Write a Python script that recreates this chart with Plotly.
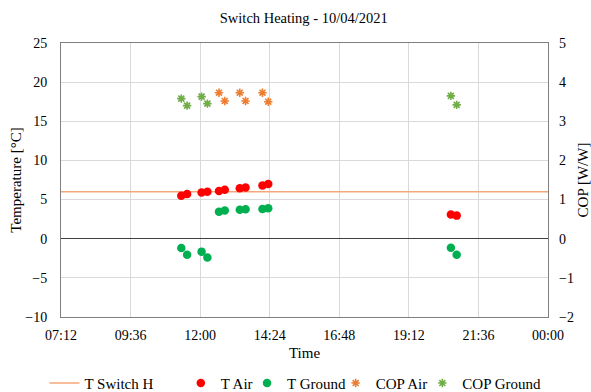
import plotly.graph_objects as go

# ---- data ----
t_switch_times = ["2021-04-10 07:12", "2021-04-11 00:00"]
t_switch_vals = [6.0, 6.0]

times = ["2021-04-10 11:21", "2021-04-10 11:33",
         "2021-04-10 12:03", "2021-04-10 12:15",
         "2021-04-10 12:39", "2021-04-10 12:51",
         "2021-04-10 13:22", "2021-04-10 13:34",
         "2021-04-10 14:09", "2021-04-10 14:21",
         "2021-04-10 20:39", "2021-04-10 20:51"]
t_air = [5.5, 5.7, 5.9, 6.0, 6.1, 6.25, 6.45, 6.55, 6.8, 7.0, 3.1, 2.95]
t_ground = [-1.2, -2.05, -1.65, -2.4, 3.45, 3.6, 3.7, 3.75, 3.8, 3.9, -1.15, -2.05]

cop_air_times = times[4:10]
cop_air = [3.73, 3.52, 3.73, 3.52, 3.73, 3.5]
cop_ground_times = times[0:4] + times[10:12]
cop_ground = [3.58, 3.4, 3.63, 3.45, 3.65, 3.42]

x_range = ["2021-04-10 07:12", "2021-04-11 00:00"]
y_range = [-10, 25]
y2_range = [-2, 5]

FONT = "Times New Roman"
TICKFONT = dict(family=FONT, size=14, color="#000000")
TITLEFONT = dict(family=FONT, size=15, color="#000000")

fig = go.Figure()
fig.add_trace(go.Scatter(x=t_switch_times, y=t_switch_vals, mode="lines", name="T Switch H",
                         line=dict(color="#F4A77A", width=1.5), legend="legend"))
fig.add_trace(go.Scatter(x=times, y=t_air, mode="markers", name="T Air",
                         marker=dict(color="#FF0000", size=8.5), legend="legend2"))
fig.add_trace(go.Scatter(x=times, y=t_ground, mode="markers", name="T Ground",
                         marker=dict(color="#00B050", size=8.5), legend="legend3"))
fig.add_trace(go.Scatter(x=cop_air_times, y=cop_air, mode="markers", name="COP Air", yaxis="y2",
                         marker=dict(color="#ED7D31", size=7, symbol="asterisk-open",
                                     line=dict(color="#ED7D31", width=1.6)), legend="legend4"))
fig.add_trace(go.Scatter(x=cop_ground_times, y=cop_ground, mode="markers", name="COP Ground", yaxis="y2",
                         marker=dict(color="#70AD47", size=7, symbol="asterisk-open",
                                     line=dict(color="#70AD47", width=1.6)), legend="legend5"))

legend_x = [-0.034, 0.246, 0.382, 0.564, 0.742]
legend_common = dict(orientation="h", xanchor="left", y=-0.242, yanchor="middle",
                     font=dict(size=15, family=FONT), bgcolor="rgba(0,0,0,0)", itemwidth=30)

fig.update_layout(
    width=591, height=392,
    margin=dict(l=61, r=43, t=43, b=75, autoexpand=False),
    paper_bgcolor="white", plot_bgcolor="white",
    font=dict(family=FONT, size=14, color="#000000"),
    title=dict(text="Switch Heating - 10/04/2021", x=0.514, xanchor="center",
               y=1 - 18 / 392, yanchor="middle", font=dict(size=14.5, family=FONT)),
    xaxis=dict(type="date", range=x_range, tick0="2021-04-10 07:12", dtick=8640000,
               tickformat="%H:%M", showgrid=True, gridcolor="#D9D9D9", gridwidth=1,
               showline=True, linecolor="#7F7F7F", linewidth=1, mirror=True,
               ticks="", zeroline=False, tickfont=TICKFONT, ticklabelstandoff=5,
               automargin=False,
               title=dict(text="Time", standoff=5, font=TITLEFONT)),
    yaxis=dict(range=y_range, dtick=5, showgrid=True, gridcolor="#D9D9D9", gridwidth=1,
               zeroline=True, zerolinecolor="#404040", zerolinewidth=1,
               showline=True, linecolor="#7F7F7F", linewidth=1, mirror=True,
               ticks="", tickfont=TICKFONT, ticklabelstandoff=10, automargin=False,
               title=dict(text="Temperature [°C]", standoff=0, font=TITLEFONT)),
    yaxis2=dict(range=y2_range, dtick=1, overlaying="y", side="right", showgrid=False,
                zeroline=False, showline=False, ticks="", tickfont=TICKFONT,
                ticklabelstandoff=10, automargin=False,
                title=dict(text="COP [W/W]", standoff=4, font=TITLEFONT)),
    legend=dict(x=legend_x[0], **legend_common),
    legend2=dict(x=legend_x[1], **legend_common),
    legend3=dict(x=legend_x[2], **legend_common),
    legend4=dict(x=legend_x[3], **legend_common),
    legend5=dict(x=legend_x[4], **legend_common),
    showlegend=True,
)

fig.write_html("out.html")
